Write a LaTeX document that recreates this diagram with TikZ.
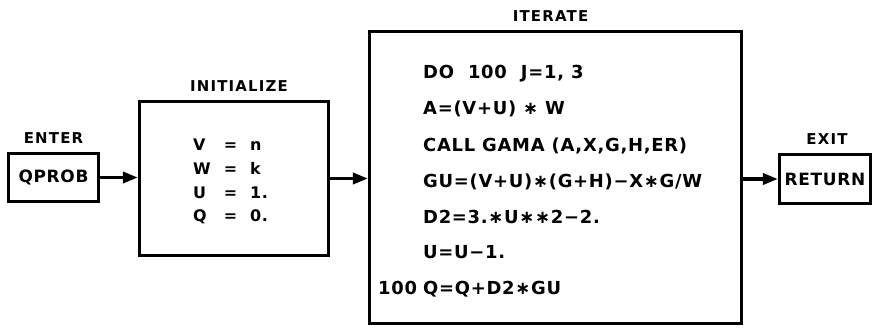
\documentclass[tikz,border=0pt]{standalone}
\usepackage{fontspec}
\usepackage{tikz}
\usetikzlibrary{arrows.meta,positioning}
\newfontfamily\leroy{DejaVu Sans}[LetterSpace=4]
\newfontfamily\leroywide{DejaVu Sans}[LetterSpace=8]

\tikzset{
  box/.style={draw, line width=3.2bp, inner sep=0pt},
  boxtext/.style={font=\leroy\bfseries\fontsize{17}{20}\selectfont},
  title/.style={font=\leroywide\bfseries\fontsize{15}{18}\selectfont, inner sep=0pt},
  code/.style={font=\leroy\bfseries\fontsize{18}{22}\selectfont, inner sep=0pt, anchor=base west},
  flow/.style={-{Triangle[length=15bp,width=11bp]}, line width=3.5bp},
}

\begin{document}
\begin{tikzpicture}[x=1bp, y=-1bp]
        \useasboundingbox (0,0) rectangle (873,327);

        % boxes
        \node[box, boxtext, minimum width=90bp, minimum height=48bp] (qprob) at (53.5,177.5) {QPROB};
        \node[box, minimum width=189bp, minimum height=154bp] (init) at (234,178.5) {};
        \node[box, minimum width=372bp, minimum height=292bp] (iter) at (555.5,177.5) {};
        \node[box, boxtext, minimum width=91bp, minimum height=49bp] (ret) at (825,179) {RETURN};

        % titles
        \node[title, above=8bp of qprob] (enter) {ENTER};
        \node[title, above=8bp of init, xshift=5bp] (initialize) {INITIALIZE};
        \node[title, above=8bp of iter, xshift=-5bp] (iterate) {ITERATE};
        \node[title, above=8bp of ret, xshift=2bp] (exit) {EXIT};

        % initial values
        \node[anchor=west, inner sep=0pt, font=\leroy\bfseries\fontsize{16}{23.7}\selectfont] (values) at (193,181.5)
            {\begin{tabular}{@{}l@{\hspace{13bp}}c@{\hspace{13bp}}l@{}}
             V & = & n\\
             W & = & k\\
             U & = & 1.\\
             Q & = & 0.
             \end{tabular}};

        % loop body
        \node[code] (line1) at (423,78) {DO\hspace{14bp}100\hspace{14bp}J=1, 3};
        \node[code] (line2) at (423,114) {A=(V+U) ∗ W};
        \node[code] (line3) at (423,151) {CALL GAMA (A,X,G,H,ER)};
        \node[code] (line4) at (423,187) {GU=(V+U)∗(G+H)−X∗G/W};
        \node[code] (line5) at (423,223) {D2=3.∗U∗∗2−2.};
        \node[code] (line6) at (423,258) {U=U−1.};
        \node[code] (line7) at (423,294) {Q=Q+D2∗GU};
        \node[code] (label100) at (378,294) {100};

        % flow
        \draw[flow] (qprob.east) -- (qprob.east -| init.west);
        \draw[flow] (init.east) -- (init.east -| iter.west);
        \draw[flow] (ret.west -| iter.east) -- (ret.west);
\end{tikzpicture}
\end{document}
